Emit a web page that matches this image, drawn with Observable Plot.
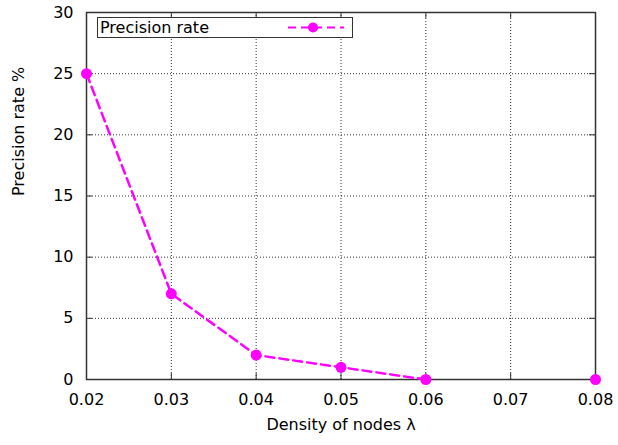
<!DOCTYPE html>
<html>
<head>
<meta charset="utf-8">
<script src="https://cdn.jsdelivr.net/npm/d3@7"></script>
<script src="https://cdn.jsdelivr.net/npm/@observablehq/plot@0.6"></script>
<style>
  body { margin: 0; background: #fff; }
  #wrap { position: relative; width: 618px; height: 445px; font-family: "DejaVu Sans", sans-serif; }
  #legend { position: absolute; left: 97px; top: 17px; width: 256px; height: 21px; border: 1px solid #333; background: #fff; box-sizing: border-box; }
  #legend span { position: absolute; left: 2px; top: 0px; font-size: 16px; line-height: 19px; color: #000; }
  #legend svg { position: absolute; left: 188px; top: 0; }
</style>
</head>
<body>
<div id="wrap">
  <div id="chart"></div>
  <div id="legend"><span>Precision rate</span>
    <svg width="62" height="19"><line x1="2" y1="9.5" x2="58" y2="9.5" stroke="#ff00ff" stroke-width="2" stroke-dasharray="8,5"/><circle cx="27" cy="9.5" r="5" fill="#ff00ff"/></svg>
  </div>
</div>
<script>
const density = [0.02, 0.03, 0.04, 0.05, 0.06, 0.07, 0.08];
const precision = [25, 7, 2, 1, 0, null, 0];
const xTicks = [0.02, 0.03, 0.04, 0.05, 0.06, 0.07, 0.08];
const yTicks = [0, 5, 10, 15, 20, 25, 30];
const seriesName = "Precision rate";

const data = density.map((x, i) => ({x, y: precision[i]}));
const pts = data.filter(d => d.y != null);

const W = 618, H = 445;
const mL = 86, mR = 23, mT = 12, mB = 66;
const plotW = W - mL - mR, plotH = H - mT - mB;

const chart = Plot.plot({
  width: W, height: H,
  marginLeft: mL, marginRight: mR, marginTop: mT, marginBottom: mB,
  style: {fontFamily: "DejaVu Sans, sans-serif", fontSize: "16px", color: "#000", background: "#fff"},
  x: {domain: [0.02, 0.08], ticks: xTicks},
  y: {domain: [0, 30], ticks: yTicks},
  marks: [
    Plot.gridX(xTicks, {stroke: "#000", strokeOpacity: 0.8, strokeDasharray: "1,2"}),
    Plot.gridY(yTicks, {stroke: "#000", strokeOpacity: 0.8, strokeDasharray: "1,2"}),
    // inward ticks
    Plot.tickY(yTicks, {y: d => d, insetRight: plotW - 6, stroke: "#333"}),
    Plot.tickY(yTicks, {y: d => d, insetLeft: plotW - 6, stroke: "#333"}),
    Plot.tickX(xTicks, {x: d => d, insetTop: plotH - 6, stroke: "#333"}),
    Plot.tickX(xTicks, {x: d => d, insetBottom: plotH - 6, stroke: "#333"}),
    Plot.axisX(xTicks, {tickSize: 0, tickPadding: 14, tickFormat: d3.format(".2f"), label: null, fontSize: 16}),
    Plot.axisY(yTicks, {tickSize: 0, tickPadding: 13, label: null, fontSize: 16}),
    Plot.frame({stroke: "#333", strokeWidth: 1.5}),
    Plot.line(data, {x: "x", y: "y", stroke: "#ff00ff", strokeWidth: 2.5, strokeDasharray: "9,5", curve: "linear"}),
    Plot.dot(pts, {x: "x", y: "y", r: 5.5, fill: "#ff00ff", stroke: "none"}),
    Plot.text(["Density of nodes λ"], {frameAnchor: "bottom", dy: 50, fontSize: 16, text: d => d, fill: "#000"}),
    Plot.text(["Precision rate %"], {frameAnchor: "left", dx: -68, rotate: -90, fontSize: 16, text: d => d, fill: "#000"})
  ]
});
document.getElementById("chart").appendChild(chart);
</script>
</body>
</html>
